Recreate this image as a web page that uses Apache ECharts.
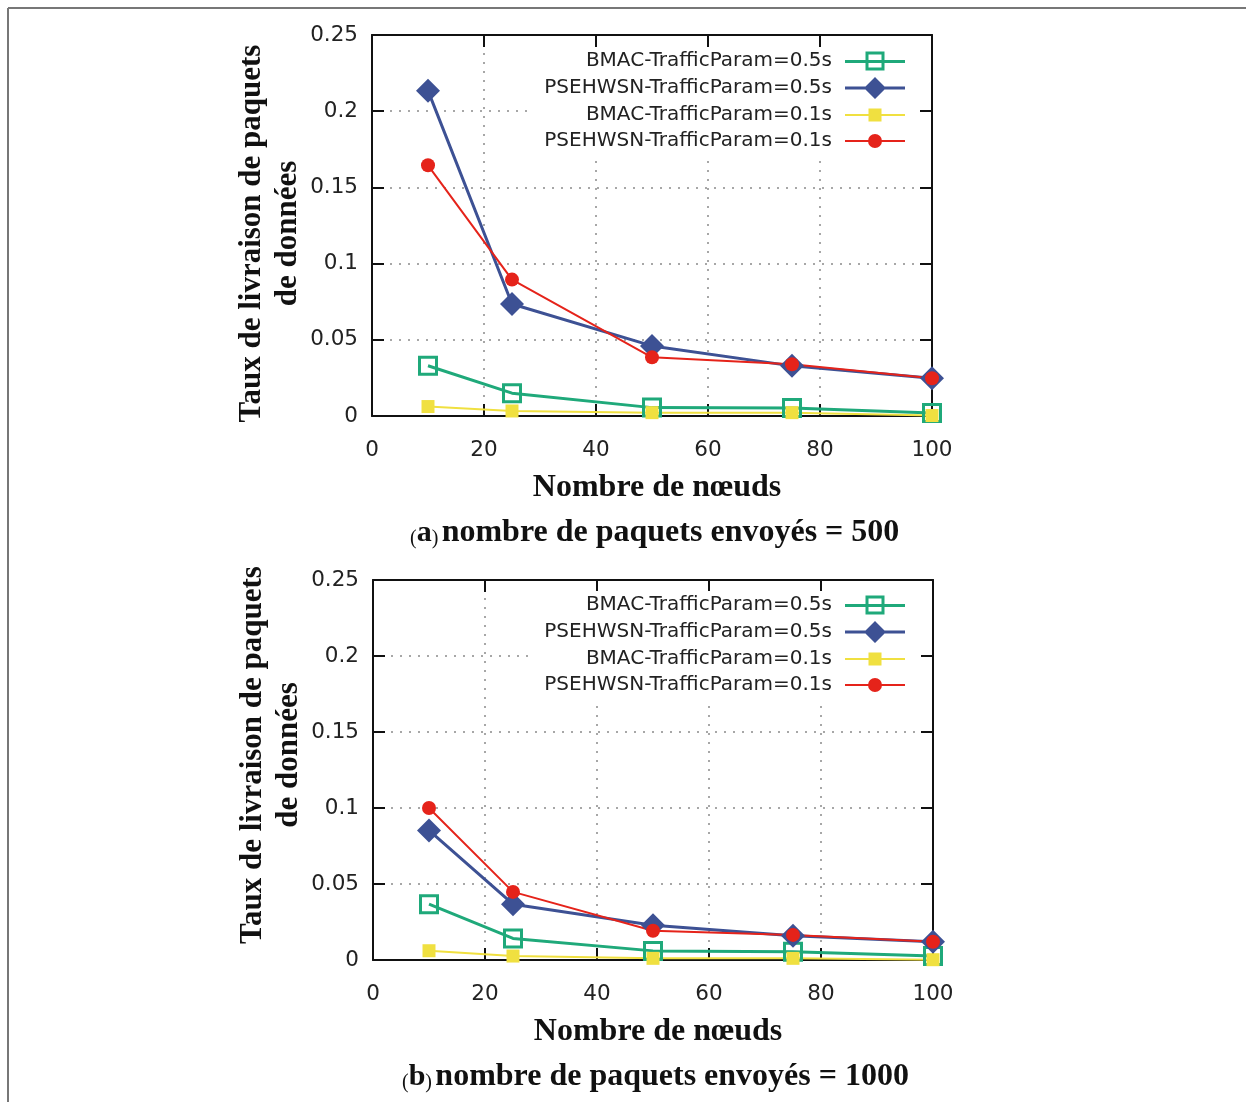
<!DOCTYPE html>
<html>
<head>
<meta charset="utf-8">
<script src="https://cdn.jsdelivr.net/npm/echarts@6/dist/echarts.min.js"></script>
<style>
  html, body { margin: 0; padding: 0; background: #fff; }
  #chart { width: 1246px; height: 1102px; }
</style>
</head>
<body>
<div id="chart"></div>
<script>
// Number of nodes (x values shared by both panels)
const nodes = [10, 25, 50, 75, 100];

// Series names
const seriesNames = [
  'BMAC-TrafficParam=0.5s',
  'PSEHWSN-TrafficParam=0.5s',
  'BMAC-TrafficParam=0.1s',
  'PSEHWSN-TrafficParam=0.1s'
];

// Panel (a): 500 packets sent
const bmac05A = [0.033, 0.015, 0.0055, 0.0053, 0.002];
const pse05A  = [0.2135, 0.0735, 0.046, 0.0329, 0.0248];
const bmac01A = [0.0062, 0.0033, 0.0022, 0.0022, 0.0003];
const pse01A  = [0.1645, 0.0895, 0.0385, 0.034, 0.0248];

// Panel (b): 1000 packets sent
const bmac05B = [0.0367, 0.0142, 0.006, 0.0054, 0.0026];
const pse05B  = [0.0852, 0.0367, 0.0229, 0.016, 0.012];
const bmac01B = [0.0061, 0.0026, 0.0011, 0.0011, 0.0002];
const pse01B  = [0.1, 0.0448, 0.0192, 0.0165, 0.012];

// Axis ranges / tick steps
const xRange = { min: 0, max: 100, interval: 20 };
const yRange = { min: 0, max: 0.25, interval: 0.05 };

const captions = [
  ['a', 'nombre de paquets envoyés = 500'],
  ['b', 'nombre de paquets envoyés = 1000']
];
const xTitle = 'Nombre de nœuds';
const yTitle = 'Taux de livraison de paquets\nde données';

const GREEN = '#1fa97a';
const BLUE = '#3d5194';
const YELLOW = '#f0e040';
const RED = '#e5231a';

const tickFont = 'DejaVu Sans';
const serifFont = 'Liberation Serif';

const grids = [
  { left: 372, top: 35, width: 560, height: 381 },
  { left: 373, top: 580, width: 560, height: 380 }
];

// Legend keys: a line segment with the point symbol in the middle
const legendIcons = [
  'path://M0 8.5H60V11.5H0Z M20.5 0H39.5V19H20.5Z M23.5 3V16H36.5V3Z',
  'path://M0 9.5H60V12.5H0Z M30 0L41 11L30 22L19 11Z',
  'path://M0 5.5H60V7.5H0Z M23.5 0H36.5V13H23.5Z',
  'path://M0 6H60V8H0Z M23 7A7 7 0 1 1 37 7A7 7 0 1 1 23 7Z'
];
const legendColors = [GREEN, BLUE, YELLOW, RED];

const frameLine = { color: '#111', width: 2 };

function xAxes(gi) {
  return [
    {
      type: 'value', gridIndex: gi, position: 'bottom',
      min: xRange.min, max: xRange.max, interval: xRange.interval,
      name: xTitle, nameLocation: 'middle', nameGap: 56,
      nameTextStyle: { fontFamily: serifFont, fontWeight: 'bold', fontSize: 32, color: '#111', padding: [0, 0, 0, 10] },
      axisLine: { show: true, onZero: false, lineStyle: frameLine },
      axisTick: { show: true, inside: true, length: 12, lineStyle: frameLine },
      axisLabel: { fontFamily: tickFont, fontSize: 21.5, color: '#222', margin: 23 },
      splitLine: { show: true, lineStyle: { color: '#8a8a8a', width: 1.5, type: [2, 7] } }
    },
    {
      type: 'value', gridIndex: gi, position: 'top',
      min: xRange.min, max: xRange.max, interval: xRange.interval,
      axisLine: { show: true, onZero: false, lineStyle: frameLine },
      axisTick: { show: true, inside: true, length: 12, lineStyle: frameLine },
      axisLabel: { show: false },
      splitLine: { show: false }
    }
  ];
}

function yAxes(gi, namePadding) {
  return [
    {
      type: 'value', gridIndex: gi, position: 'left',
      min: yRange.min, max: yRange.max, interval: yRange.interval,
      name: yTitle, nameLocation: 'middle', nameGap: 56,
      nameTextStyle: { fontFamily: serifFont, fontWeight: 'bold', fontSize: 31, color: '#111', lineHeight: 36, padding: namePadding },
      axisLine: { show: true, onZero: false, lineStyle: frameLine },
      axisTick: { show: true, inside: true, length: 12, lineStyle: frameLine },
      axisLabel: { fontFamily: tickFont, fontSize: 21.5, color: '#222', margin: 14 },
      splitLine: { show: true, lineStyle: { color: '#8a8a8a', width: 1.5, type: [2, 7] } }
    },
    {
      type: 'value', gridIndex: gi, position: 'right',
      min: yRange.min, max: yRange.max, interval: yRange.interval,
      axisLine: { show: true, onZero: false, lineStyle: frameLine },
      axisTick: { show: true, inside: true, length: 12, lineStyle: frameLine },
      axisLabel: { show: false },
      splitLine: { show: false }
    }
  ];
}

function pairs(vals) {
  return nodes.map((x, i) => [x, vals[i]]);
}

function panelSeries(gi, data) {
  const xi = gi * 2, yi = gi * 2;
  return [
    {
      name: seriesNames[0], type: 'line', xAxisIndex: xi, yAxisIndex: yi, clip: false,
      data: pairs(data[0]), symbol: 'rect', symbolSize: 17,
      color: GREEN,
      lineStyle: { color: GREEN, width: 3 },
      itemStyle: { color: 'rgba(255,255,255,0)', borderColor: GREEN, borderWidth: 3 }
    },
    {
      name: seriesNames[1], type: 'line', xAxisIndex: xi, yAxisIndex: yi, clip: false,
      data: pairs(data[1]), symbol: 'diamond', symbolSize: 24,
      color: BLUE,
      lineStyle: { color: BLUE, width: 3 },
      itemStyle: { color: BLUE }
    },
    {
      name: seriesNames[2], type: 'line', xAxisIndex: xi, yAxisIndex: yi, clip: false,
      data: pairs(data[2]), symbol: 'rect', symbolSize: 13,
      color: YELLOW,
      lineStyle: { color: YELLOW, width: 2 },
      itemStyle: { color: YELLOW }
    },
    {
      name: seriesNames[3], type: 'line', xAxisIndex: xi, yAxisIndex: yi, clip: false,
      data: pairs(data[3]), symbol: 'circle', symbolSize: 14,
      color: RED,
      lineStyle: { color: RED, width: 2 },
      itemStyle: { color: RED }
    }
  ];
}

function legendFor(top) {
  return {
    data: seriesNames.map((name, i) => ({
      name: name,
      icon: legendIcons[i],
      itemStyle: { color: legendColors[i], borderWidth: 0, borderColor: 'rgba(0,0,0,0)' }
    })),
    orient: 'vertical',
    align: 'right',
    right: 328,
    top: top,
    backgroundColor: '#fff',
    padding: [4, 13, 4, 12],
    itemWidth: 60,
    itemHeight: 24,
    itemGap: 6,
    selectedMode: false,
    itemStyle: { borderWidth: 0 },
    textStyle: { fontFamily: tickFont, fontSize: 20, color: '#222', padding: [0, 8, 0, 0] }
  };
}

function caption(idx, x, y) {
  return {
    type: 'text',
    left: x,
    top: y,
    style: {
      text: '{p|(}{l|' + captions[idx][0] + '}{p|)} {t|' + captions[idx][1] + '}',
      rich: {
        p: { fontFamily: serifFont, fontSize: 20, fill: '#111', verticalAlign: 'bottom' },
        l: { fontFamily: serifFont, fontSize: 30, fontWeight: 'bold', fill: '#111' },
        t: { fontFamily: serifFont, fontSize: 32, fontWeight: 'bold', fill: '#111' }
      }
    }
  };
}

const chart = echarts.init(document.getElementById('chart'), null, { renderer: 'canvas' });

chart.setOption({
  backgroundColor: '#fff',
  animation: false,
  grid: grids,
  xAxis: [...xAxes(0), ...xAxes(1)],
  yAxis: [...yAxes(0, [0, 16, 0, 0]), ...yAxes(1, [0, 0, 0, 30])],
  legend: [legendFor(47), legendFor(591)],
  series: [
    ...panelSeries(0, [bmac05A, pse05A, bmac01A, pse01A]),
    ...panelSeries(1, [bmac05B, pse05B, bmac01B, pse01B])
  ],
  graphic: [
    // page frame
    { type: 'line', shape: { x1: 8, y1: 8, x2: 1246, y2: 8 }, style: { stroke: '#777', lineWidth: 2 } },
    { type: 'line', shape: { x1: 8, y1: 8, x2: 8, y2: 1102 }, style: { stroke: '#777', lineWidth: 2 } },
    caption(0, 410, 517),
    caption(1, 402, 1061)
  ]
});
</script>
</body>
</html>
